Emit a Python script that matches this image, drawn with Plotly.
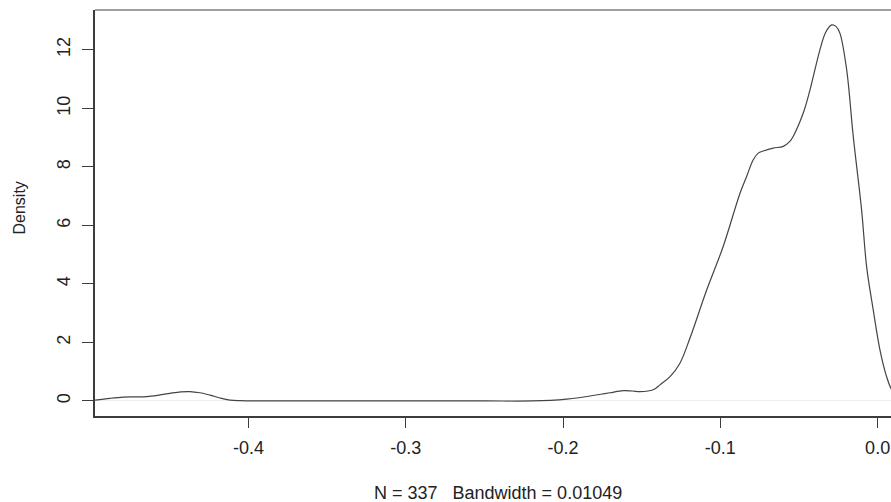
import plotly.graph_objects as go

# Kernel density estimate of returns (N = 337, bandwidth = 0.01049)
density_x = [
    -0.4976, -0.4880, -0.4796, -0.4720, -0.4647, -0.4570, -0.4499, -0.4430,
    -0.4372, -0.4310, -0.4245, -0.4180, -0.4118, -0.4054, -0.3900, -0.3500,
    -0.3000, -0.2500, -0.2200, -0.2080, -0.1977, -0.1900, -0.1829, -0.1760,
    -0.1702, -0.1617, -0.1560, -0.1511, -0.1460, -0.1420, -0.1384, -0.1320,
    -0.1257, -0.1193, -0.1087, -0.0982, -0.0875, -0.0833, -0.0791, -0.0759,
    -0.0727, -0.0664, -0.0600, -0.0558, -0.0537, -0.0473, -0.0430, -0.0367,
    -0.0330, -0.0292, -0.0265, -0.0240, -0.0197, -0.0155, -0.0102, -0.0070,
    -0.0028, 0.0015, 0.0057, 0.0085, 0.0120, 0.0150,
]
density_y = [
    0.03, 0.09, 0.13, 0.14, 0.15, 0.20, 0.26, 0.31,
    0.32, 0.28, 0.20, 0.10, 0.03, 0.01, 0.00, 0.00,
    0.00, 0.00, 0.00, 0.02, 0.06, 0.11, 0.17, 0.23,
    0.28, 0.35, 0.34, 0.32, 0.34, 0.40, 0.55, 0.83,
    1.29, 2.15, 3.79, 5.28, 7.10, 7.67, 8.24, 8.47,
    8.54, 8.64, 8.70, 8.87, 9.04, 9.84, 10.63, 12.00,
    12.60, 12.85, 12.80, 12.57, 11.32, 9.04, 6.53, 4.59,
    3.11, 1.74, 0.83, 0.43, 0.18, 0.08,
]

x_ticks = [-0.4, -0.3, -0.2, -0.1, 0.0]
x_tick_labels = ["-0.4", "-0.3", "-0.2", "-0.1", "0.0"]
y_ticks = [0, 2, 4, 6, 8, 10, 12]
y_tick_labels = ["0", "2", "4", "6", "8", "10", "12"]

x_label = "N = 337   Bandwidth = 0.01049"
y_label = "Density"

FONT = "Liberation Sans, Arial, Helvetica, sans-serif"
TEXT = "#222222"
AXIS = "#3c3c3c"

fig = go.Figure()
fig.add_trace(go.Scatter(
    x=density_x,
    y=density_y,
    mode="lines",
    line=dict(color="#444444", width=1.2, shape="spline", smoothing=1.0),
    hoverinfo="skip",
    showlegend=False,
))

fig.update_layout(
    width=891,
    height=502,
    margin=dict(l=95, r=0, t=10, b=86),
    paper_bgcolor="white",
    plot_bgcolor="white",
    font=dict(family=FONT, size=18, color=TEXT),
    xaxis=dict(
        range=[-0.4976, 0.0085],
        tickvals=x_ticks,
        ticktext=x_tick_labels,
        ticks="outside",
        ticklen=10,
        tickwidth=1,
        tickcolor=AXIS,
        showline=True,
        linecolor=AXIS,
        linewidth=1.5,
        showgrid=False,
        zeroline=False,
        ticklabelstandoff=5,
        tickfont=dict(size=18, color=TEXT),
    ),
    yaxis=dict(
        range=[-0.514, 13.36],
        tickvals=y_ticks,
        ticktext=y_tick_labels,
        tickangle=-90,
        ticks="outside",
        ticklen=11,
        tickwidth=1,
        tickcolor=AXIS,
        showline=True,
        linecolor=AXIS,
        linewidth=1.5,
        showgrid=False,
        zeroline=True,
        zerolinecolor="#eeeeee",
        zerolinewidth=1,
        ticklabelstandoff=5,
        tickfont=dict(size=18, color=TEXT),
    ),
    shapes=[
        # upper edge of the plotting frame
        dict(type="line", xref="paper", yref="paper", x0=0, x1=1, y0=1, y1=1,
             line=dict(color="#a0a0a0", width=2)),
    ],
    annotations=[
        dict(text=x_label, xref="paper", yref="paper", x=0.506, y=0,
             yshift=-77, showarrow=False, xanchor="center", yanchor="middle",
             font=dict(size=18, color=TEXT)),
        dict(text=y_label, xref="paper", yref="paper", x=0, y=0.5,
             xshift=-76.5, yshift=5, textangle=-90, showarrow=False,
             xanchor="center", yanchor="middle",
             font=dict(size=16, color=TEXT)),
    ],
)

fig.write_html("out.html")
